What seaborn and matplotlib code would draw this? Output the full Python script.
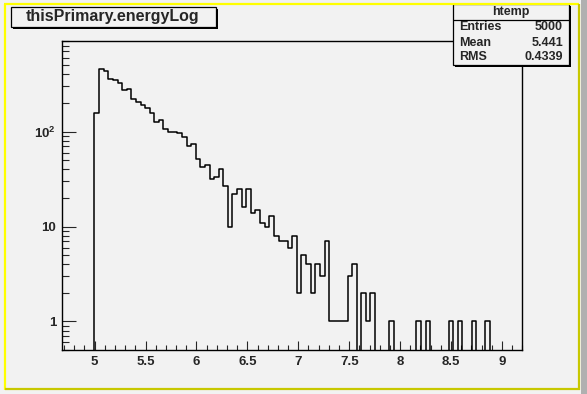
import numpy as np
import pandas as pd
import seaborn as sns
import matplotlib
matplotlib.use('Agg')
import matplotlib.pyplot as plt
from matplotlib.patches import Rectangle
from matplotlib.lines import Line2D
from matplotlib.ticker import MultipleLocator, LogLocator, FixedLocator, FixedFormatter, NullFormatter, FuncFormatter

# htemp: thisPrimary.energyLog, 100 bins
title = 'thisPrimary.energyLog'
hist_name = 'htemp'
x_min = 4.682
x_max = 9.2
n_bins = 100
counts = [0, 0, 0, 0, 0, 0, 0,
          157, 458, 436, 359, 351, 326, 275, 282, 221, 205,
          191, 178, 157, 126, 133, 107, 99, 99, 97, 88,
          70, 74, 51, 42, 44, 32, 33, 40, 27, 10,
          22, 25, 16, 25, 14, 15, 11, 10, 13, 8,
          7, 7, 6, 8, 2, 5, 4, 2, 4, 3,
          7, 1, 1, 1, 1, 3, 4, 0, 2, 1,
          2, 0, 0, 0, 1, 0, 0, 0, 0, 0,
          1, 0, 1, 0, 0, 0, 0, 1, 0, 1,
          0, 0, 1, 0, 0, 1, 0, 0, 0, 0,
          0, 0, 0]
stats_labels = ['Entries', 'Mean', 'RMS']
stats_values = ['5000', '5.441', '0.4339']
y_ticks = [1, 10, 100]
y_ticklabels = ['1', '10', r'$10^{2}$']
y_range = (0.5, 900)

W, H = 587, 394
BG = '#f2f2f2'


def fx(px):
    return px / W


def fy(py):
    return 1 - py / H


def add_box(fig, x0, y0, x1, y1, shadow=2):
    """Box with black drop shadow, in pixel coords"""
    fig.add_artist(Rectangle((fx(x0 + shadow), fy(y1 + shadow)), (x1 - x0) / W, (y1 - y0) / H,
                             transform=fig.transFigure, facecolor='black', edgecolor='none'))
    fig.add_artist(Rectangle((fx(x0), fy(y1)), (x1 - x0) / W, (y1 - y0) / H,
                             transform=fig.transFigure, facecolor=BG, edgecolor='black', linewidth=0.9))


def add_line(fig, x0, y0, x1, y1, color, lw):
    fig.add_artist(Line2D([fx(x0), fx(x1)], [fy(y0), fy(y1)], transform=fig.transFigure,
                          color=color, linewidth=lw, solid_capstyle='butt'))


sns.set_style('ticks')
plt.rcParams['font.family'] = ['Liberation Sans', 'DejaVu Sans']
plt.rcParams['font.weight'] = 'bold'
plt.rcParams['mathtext.fontset'] = 'custom'
plt.rcParams['mathtext.rm'] = 'Liberation Sans:bold'
plt.rcParams['mathtext.it'] = 'Liberation Sans:bold'
plt.rcParams['mathtext.bf'] = 'Liberation Sans:bold'

bin_width = (x_max - x_min) / n_bins
centers = x_min + bin_width * (np.arange(n_bins) + 0.5)
df = pd.DataFrame({'energyLog': centers, 'count': counts})

fig = plt.figure(figsize=(W / 100, H / 100), dpi=100, facecolor=BG)

# canvas border (grey strip, yellow highlight)
fig.add_artist(Rectangle((fx(581), 0), 6 / W, 1, transform=fig.transFigure,
                         facecolor='#b0b0b0', edgecolor='none'))
add_line(fig, 5, 4, 5, 390, '#ffff00', 1.6)
add_line(fig, 4, 4, 579, 4, '#ffff00', 1.6)
add_line(fig, 578.5, 4, 578.5, 390, '#c8c800', 1.6)
add_line(fig, 5, 389, 579.5, 389, '#c8c800', 1.6)

ax = fig.add_axes([fx(62.3), fy(350), 460 / W, 309 / H])
ax.set_facecolor(BG)

sns.histplot(data=df, x='energyLog', weights='count', bins=n_bins, binrange=(x_min, x_max),
             element='step', fill=False, color='black', linewidth=1.1, ax=ax)

ax.set_yscale('log')
ax.set_xlim(x_min, x_max)
ax.set_ylim(*y_range)
ax.set_xlabel('')
ax.set_ylabel('')

for side in ['top', 'right', 'bottom', 'left']:
    ax.spines[side].set_visible(True)
    ax.spines[side].set_color('black')
    ax.spines[side].set_linewidth(1.0)

ax.xaxis.set_major_locator(MultipleLocator(0.5))
ax.xaxis.set_minor_locator(MultipleLocator(0.1))
ax.xaxis.set_major_formatter(FuncFormatter(lambda v, p: f'{v:g}'))
ax.yaxis.set_major_locator(FixedLocator(y_ticks))
ax.yaxis.set_major_formatter(FixedFormatter(y_ticklabels))
ax.yaxis.set_minor_locator(LogLocator(base=10, subs=np.arange(2, 10)))
ax.yaxis.set_minor_formatter(NullFormatter())

ax.tick_params(axis='x', which='major', direction='in', length=6.7, width=0.8, pad=4, labelsize=9.5)
ax.tick_params(axis='x', which='minor', direction='in', length=3.3, width=0.8)
ax.tick_params(axis='y', which='major', direction='in', length=10, width=0.8, pad=4.5, labelsize=9.5)
ax.tick_params(axis='y', which='minor', direction='in', length=5, width=0.8)
ax.tick_params(top=False, right=False, which='both')

# title box
add_box(fig, 10.5, 6.7, 216, 27)
fig.text(fx(113), fy(17), title, ha='center', va='center', fontsize=11.5, fontweight='bold')

# stats box
add_box(fig, 453.3, 4.3, 569.3, 65)
add_line(fig, 453.3, 20, 569.3, 20, 'black', 0.9)
fig.text(fx(511), fy(12.5), hist_name, ha='center', va='center', fontsize=9, fontweight='bold')
for i, (lab, val) in enumerate(zip(stats_labels, stats_values)):
    yy = 27.5 + 15 * i
    fig.text(fx(459), fy(yy), lab, ha='left', va='center', fontsize=9, fontweight='bold')
    fig.text(fx(563), fy(yy), val, ha='right', va='center', fontsize=9, fontweight='bold')

fig.savefig('out.png', dpi=100, facecolor=BG)
